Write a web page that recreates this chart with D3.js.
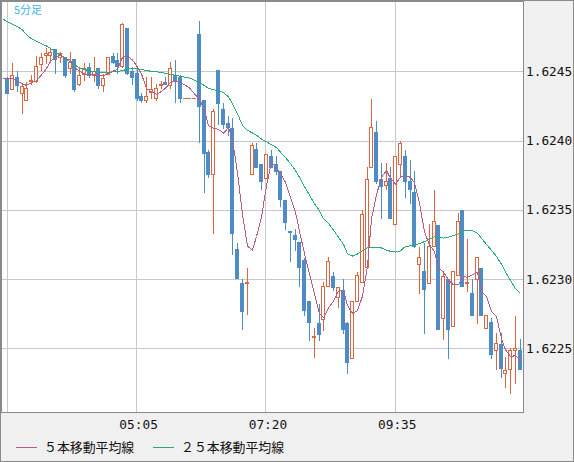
<!DOCTYPE html>
<html>
<head>
<meta charset="utf-8">
<script src="https://cdn.jsdelivr.net/npm/d3@7"></script>
<style>
    body { margin: 0; background: #f0f0f0; }
    svg { display: block; }
</style>
</head>
<body>
<div id="visual"></div>
<script>
// 5 minute bars, 02:50 - 11:45
var open = [1.62445, 1.62437, 1.62446, 1.62434, 1.62429, 1.62443, 1.62443, 1.62455, 1.62462, 1.62462,
    1.62466, 1.62460, 1.62460, 1.62452, 1.62459, 1.62441, 1.62448, 1.62453, 1.62448, 1.62452,
    1.62440, 1.62448, 1.62461, 1.62458, 1.62454, 1.62481, 1.62450, 1.62449, 1.62432, 1.62429,
    1.62435, 1.62431, 1.62440, 1.62442, 1.62440, 1.62447, 1.62446, 1.62431, 1.62431, 1.62431,
    1.62477, 1.62429, 1.62392, 1.62376, 1.62451, 1.62423, 1.62413, 1.62409, 1.62322, 1.62297,
    1.62297, 1.62376, 1.62394, 1.62383, 1.62373, 1.62389, 1.62383, 1.62378, 1.62357, 1.62335,
    1.62332, 1.62327, 1.62314, 1.62284, 1.62258, 1.62268, 1.62271, 1.62295, 1.62302, 1.62287,
    1.62292, 1.62268, 1.62243, 1.62284, 1.62298, 1.62309, 1.62381, 1.62406, 1.62372, 1.62368,
    1.62373, 1.62340, 1.62383, 1.62389, 1.62371, 1.62363, 1.62311, 1.62306, 1.62297, 1.62324,
    1.62339, 1.62272, 1.62300, 1.62266, 1.62303, 1.62350, 1.62297, 1.62290, 1.62300, 1.62308,
    1.62265, 1.62269, 1.62249, 1.62253, 1.62232, 1.62235, 1.62249, 1.62249];

var high = [1.62446, 1.62456, 1.62450, 1.62441, 1.62442, 1.62447, 1.62461, 1.62463, 1.62467, 1.62467,
    1.62466, 1.62464, 1.62460, 1.62464, 1.62459, 1.62453, 1.62456, 1.62456, 1.62460, 1.62452,
    1.62448, 1.62460, 1.62463, 1.62463, 1.62485, 1.62481, 1.62453, 1.62452, 1.62434, 1.62446,
    1.62446, 1.62441, 1.62443, 1.62446, 1.62457, 1.62458, 1.62447, 1.62431, 1.62431, 1.62431,
    1.62486, 1.62429, 1.62393, 1.62423, 1.62451, 1.62427, 1.62418, 1.62416, 1.62326, 1.62300,
    1.62308, 1.62398, 1.62398, 1.62383, 1.62390, 1.62393, 1.62389, 1.62378, 1.62357, 1.62335,
    1.62336, 1.62327, 1.62315, 1.62284, 1.62265, 1.62282, 1.62298, 1.62316, 1.62305, 1.62294,
    1.62300, 1.62269, 1.62284, 1.62305, 1.62350, 1.62381, 1.62430, 1.62414, 1.62384, 1.62384,
    1.62381, 1.62389, 1.62400, 1.62393, 1.62386, 1.62378, 1.62323, 1.62326, 1.62340, 1.62364,
    1.62339, 1.62304, 1.62300, 1.62306, 1.62348, 1.62350, 1.62329, 1.62300, 1.62316, 1.62308,
    1.62274, 1.62272, 1.62261, 1.62261, 1.62244, 1.62250, 1.62273, 1.62257];

var low = [1.62434, 1.62437, 1.62436, 1.62420, 1.62429, 1.62441, 1.62442, 1.62451, 1.62456, 1.62457,
    1.62449, 1.62457, 1.62446, 1.62449, 1.62436, 1.62440, 1.62444, 1.62446, 1.62443, 1.62438,
    1.62436, 1.62448, 1.62456, 1.62449, 1.62453, 1.62448, 1.62441, 1.62429, 1.62428, 1.62428,
    1.62431, 1.62429, 1.62438, 1.62441, 1.62438, 1.62428, 1.62428, 1.62431, 1.62431, 1.62431,
    1.62399, 1.62363, 1.62374, 1.62333, 1.62412, 1.62409, 1.62404, 1.62318, 1.62301, 1.62264,
    1.62275, 1.62376, 1.62381, 1.62365, 1.62373, 1.62381, 1.62376, 1.62353, 1.62336, 1.62313,
    1.62321, 1.62295, 1.62274, 1.62256, 1.62244, 1.62256, 1.62263, 1.62295, 1.62292, 1.62280,
    1.62261, 1.62232, 1.62243, 1.62284, 1.62298, 1.62309, 1.62381, 1.62369, 1.62344, 1.62365,
    1.62344, 1.62340, 1.62375, 1.62359, 1.62355, 1.62323, 1.62290, 1.62261, 1.62297, 1.62324,
    1.62264, 1.62257, 1.62243, 1.62266, 1.62303, 1.62295, 1.62291, 1.62274, 1.62268, 1.62274,
    1.62265, 1.62243, 1.62235, 1.62229, 1.62222, 1.62218, 1.62225, 1.62235];

var close = [1.62434, 1.62447, 1.62440, 1.62439, 1.62438, 1.62444, 1.62454, 1.62460, 1.62463, 1.62464,
    1.62459, 1.62463, 1.62447, 1.62457, 1.62437, 1.62447, 1.62452, 1.62447, 1.62450, 1.62440,
    1.62445, 1.62460, 1.62457, 1.62454, 1.62484, 1.62449, 1.62446, 1.62431, 1.62429, 1.62432,
    1.62437, 1.62438, 1.62441, 1.62441, 1.62452, 1.62443, 1.62431, 1.62431, 1.62431, 1.62431,
    1.62425, 1.62391, 1.62376, 1.62421, 1.62427, 1.62412, 1.62410, 1.62333, 1.62301, 1.62277,
    1.62298, 1.62397, 1.62381, 1.62371, 1.62390, 1.62381, 1.62378, 1.62358, 1.62341, 1.62334,
    1.62329, 1.62309, 1.62278, 1.62269, 1.62259, 1.62260, 1.62295, 1.62313, 1.62294, 1.62294,
    1.62264, 1.62240, 1.62284, 1.62303, 1.62347, 1.62372, 1.62410, 1.62371, 1.62367, 1.62371,
    1.62344, 1.62389, 1.62398, 1.62371, 1.62365, 1.62324, 1.62316, 1.62293, 1.62324, 1.62342,
    1.62264, 1.62302, 1.62264, 1.62306, 1.62342, 1.62295, 1.62298, 1.62274, 1.62316, 1.62274,
    1.62274, 1.62246, 1.62254, 1.62236, 1.62234, 1.62249, 1.62250, 1.62235];

// moving averages as drawn on the chart, starting one bar before the first candle
var ma5 = [1.624446, 1.624449, 1.624446, 1.624428, 1.624411, 1.624397, 1.624418, 1.624432, 1.624473, 1.624520, 1.624571,
    1.624601, 1.624619, 1.624593, 1.624580, 1.624526, 1.624502, 1.624480, 1.624480, 1.624467, 1.624473,
    1.624468, 1.624484, 1.624503, 1.624512, 1.624600, 1.624608, 1.624581, 1.624530, 1.624480, 1.624376,
    1.624351, 1.624334, 1.624354, 1.624379, 1.624419, 1.624432, 1.624419, 1.624399, 1.624379, 1.624337,
    1.624301, 1.624220, 1.624108, 1.624088, 1.624080, 1.624054, 1.624093, 1.624007, 1.623767, 1.623467,
    1.623237, 1.623210, 1.623307, 1.623447, 1.623674, 1.623841, 1.623805, 1.623759, 1.623698, 1.623587,
    1.623483, 1.623344, 1.623184, 1.623039, 1.622889, 1.622750, 1.622721, 1.622791, 1.622841, 1.622911,
    1.622919, 1.622809, 1.622753, 1.622770, 1.622877, 1.623093, 1.623434, 1.623607, 1.623736, 1.623783,
    1.623727, 1.623684, 1.623737, 1.623746, 1.623734, 1.623695, 1.623549, 1.623340, 1.623246, 1.623198,
    1.623078, 1.623051, 1.622993, 1.622957, 1.622958, 1.623019, 1.623012, 1.623031, 1.623049, 1.622913,
    1.622872, 1.622768, 1.622729, 1.622570, 1.622489, 1.622440, 1.622447, 1.622409];

var ma25 = [1.624874, 1.624857, 1.624840, 1.624822, 1.624798, 1.624764, 1.624734, 1.624717, 1.624699, 1.624682, 1.624664,
    1.624640, 1.624616, 1.624591, 1.624567, 1.624546, 1.624525, 1.624513, 1.624503, 1.624497, 1.624494,
    1.624493, 1.624493, 1.624495, 1.624499, 1.624505, 1.624515, 1.624520, 1.624517, 1.624512, 1.624506,
    1.624499, 1.624496, 1.624492, 1.624485, 1.624478, 1.624471, 1.624464, 1.624457, 1.624450, 1.624436,
    1.624418, 1.624396, 1.624377, 1.624366, 1.624360, 1.624347, 1.624314, 1.624265, 1.624192, 1.624110,
    1.624073, 1.624054, 1.624038, 1.624010, 1.623991, 1.623969, 1.623949, 1.623916, 1.623876, 1.623833,
    1.623783, 1.623734, 1.623667, 1.623606, 1.623544, 1.623494, 1.623436, 1.623400, 1.623353, 1.623301,
    1.623250, 1.623182, 1.623166, 1.623180, 1.623203, 1.623228, 1.623228, 1.623228, 1.623224, 1.623209,
    1.623200, 1.623194, 1.623203, 1.623236, 1.623239, 1.623243, 1.623256, 1.623270, 1.623288, 1.623304,
    1.623301, 1.623296, 1.623302, 1.623313, 1.623326, 1.623344, 1.623351, 1.623348, 1.623330, 1.623293,
    1.623250, 1.623207, 1.623163, 1.623106, 1.623051, 1.622990, 1.622932, 1.622896];

var priceTicks = [1.6225, 1.6230, 1.6235, 1.6240, 1.6245];
var gridIdx = [0, 27, 54, 81];
var timeIdx = [27, 54, 81];
var timeLabels = ["05:05", "07:20", "09:35"];
var legendNames = ["５本移動平均線", "２５本移動平均線"];
var periodLabel = "5分足";

function chart() {

    var w = 574, h = 462;
    var plotR = 523, plotB = 412;

    var upColor = "#dd6641", downColor = "#4d8cc4";
    var ma5Color = "#b35d8a", ma25Color = "#27ad6e";

    var xScale = d3.scaleLinear()
        .domain([0, close.length - 1])
        .range([7.3, 519.8]);

    var yScale = d3.scaleLinear()
        .domain([1.62204, 1.62500])
        .range([412, 2]);

    var svg = d3.select("#visual").append("svg").attr("width", w).attr("height", h);

    svg.append("rect").attr("width", w).attr("height", h).attr("fill", "#f0f0f0");

    // plot area
    svg.append("rect")
        .attr("x", 1).attr("y", 1)
        .attr("width", plotR - 1).attr("height", plotB - 1)
        .attr("fill", "#ffffff");

    svg.append("clipPath").attr("id", "clip")
        .append("rect").attr("x", 2).attr("y", 2)
        .attr("width", plotR - 2).attr("height", plotB - 2);

    // grid
    svg.selectAll(".hgrid").data(priceTicks).enter()
        .append("line")
        .attr("x1", 2).attr("x2", plotR)
        .attr("y1", function (d) { return Math.round(yScale(d)) + 0.5; })
        .attr("y2", function (d) { return Math.round(yScale(d)) + 0.5; })
        .attr("stroke", "#c8c8c8");

    svg.selectAll(".vgrid").data(gridIdx).enter()
        .append("line")
        .attr("x1", function (d) { return Math.floor(xScale(d)) + 0.5; })
        .attr("x2", function (d) { return Math.floor(xScale(d)) + 0.5; })
        .attr("y1", 2).attr("y2", plotB)
        .attr("stroke", "#c8c8c8");

    var g = svg.append("g").attr("clip-path", "url(#clip)");

    // Draw candles
    var candles = g.selectAll(".candle").data(d3.range(close.length)).enter()
        .append("g");

    candles.each(function (i) {
        var c = d3.select(this);
        var cx = Math.round(xScale(i));
        var up = close[i] >= open[i];
        var col = up ? upColor : downColor;
        var top = Math.round(yScale(Math.max(open[i], close[i])));
        var bot = Math.round(yScale(Math.min(open[i], close[i])));

        c.append("line")
            .attr("x1", cx + 0.5).attr("x2", cx + 0.5)
            .attr("y1", Math.round(yScale(high[i])))
            .attr("y2", Math.round(yScale(low[i])) + 1)
            .attr("stroke", col);

        if (bot - top < 1) {
            c.append("line")
                .attr("x1", cx - 2).attr("x2", cx + 2)
                .attr("y1", top + 0.5).attr("y2", top + 0.5)
                .attr("stroke", col);
        } else if (up) {
            c.append("rect")
                .attr("x", cx - 1.5).attr("y", top + 0.5)
                .attr("width", 3).attr("height", bot - top)
                .attr("fill", "#ffffff").attr("stroke", col);
        } else {
            c.append("rect")
                .attr("x", cx - 2).attr("y", top)
                .attr("width", 4).attr("height", bot - top + 1)
                .attr("fill", col);
        }
    });

    // Moving averages (first value belongs to the bar before the first candle)
    var line = d3.line()
        .x(function (d, i) { return Math.round(xScale(i - 1)) + 0.5; })
        .y(function (d) { return yScale(d); });

    g.append("path").datum(ma25)
        .attr("d", line)
        .attr("fill", "none")
        .attr("stroke", ma25Color)
        .attr("stroke-width", 1)
        .attr("shape-rendering", "crispEdges");

    g.append("path").datum(ma5)
        .attr("d", line)
        .attr("fill", "none")
        .attr("stroke", ma5Color)
        .attr("stroke-width", 1)
        .attr("shape-rendering", "crispEdges");

    // borders
    svg.append("rect")
        .attr("x", 1.5).attr("y", 1.5)
        .attr("width", plotR - 1).attr("height", plotB - 1)
        .attr("fill", "none").attr("stroke", "#8a8a8a");

    svg.append("rect")
        .attr("x", 0.5).attr("y", 0.5)
        .attr("width", w - 1).attr("height", h - 1)
        .attr("fill", "none").attr("stroke", "#8a8a8a");

    // price axis
    var yAxis = d3.axisRight(yScale)
        .tickValues(priceTicks)
        .tickFormat(d3.format(".4f"))
        .tickSize(0)
        .tickPadding(3);

    var ya = svg.append("g")
        .attr("transform", "translate(" + (plotR) + ",0)")
        .call(yAxis);
    ya.select(".domain").remove();
    ya.selectAll("text")
        .attr("font-family", "'DejaVu Sans Mono', monospace")
        .attr("font-size", "12.8px")
        .attr("fill", "#111");

    // time axis
    var xAxis = d3.axisBottom(xScale)
        .tickValues(timeIdx)
        .tickFormat(function (d, i) { return timeLabels[i]; })
        .tickSize(0)
        .tickPadding(8);

    var xa = svg.append("g")
        .attr("transform", "translate(1.5," + plotB + ")")
        .call(xAxis);
    xa.select(".domain").remove();
    xa.selectAll("text")
        .attr("font-family", "'DejaVu Sans Mono', monospace")
        .attr("font-size", "12.8px")
        .attr("fill", "#111");

    // Add Legend
    var legX = [16, 153];
    var legCol = [ma5Color, ma25Color];

    var legend = svg.selectAll(".legend").data(legendNames).enter().append("g");

    legend.append("line")
        .attr("x1", function (d, i) { return legX[i]; })
        .attr("x2", function (d, i) { return legX[i] + 21; })
        .attr("y1", 447.5).attr("y2", 447.5)
        .attr("stroke", function (d, i) { return legCol[i]; });

    legend.append("text")
        .attr("x", function (d, i) { return legX[i] + 28; })
        .attr("y", 452)
        .text(function (d) { return d; })
        .attr("font-family", "'Noto Sans CJK JP', sans-serif")
        .attr("font-size", "12.9px")
        .attr("fill", "#111");

    svg.append("text")
        .attr("x", 14).attr("y", 14)
        .text(periodLabel)
        .attr("font-family", "'Noto Sans CJK JP', sans-serif")
        .attr("font-size", "11px")
        .attr("fill", "#3fb3ea");
}

window.onload = chart;
</script>
</body>
</html>
